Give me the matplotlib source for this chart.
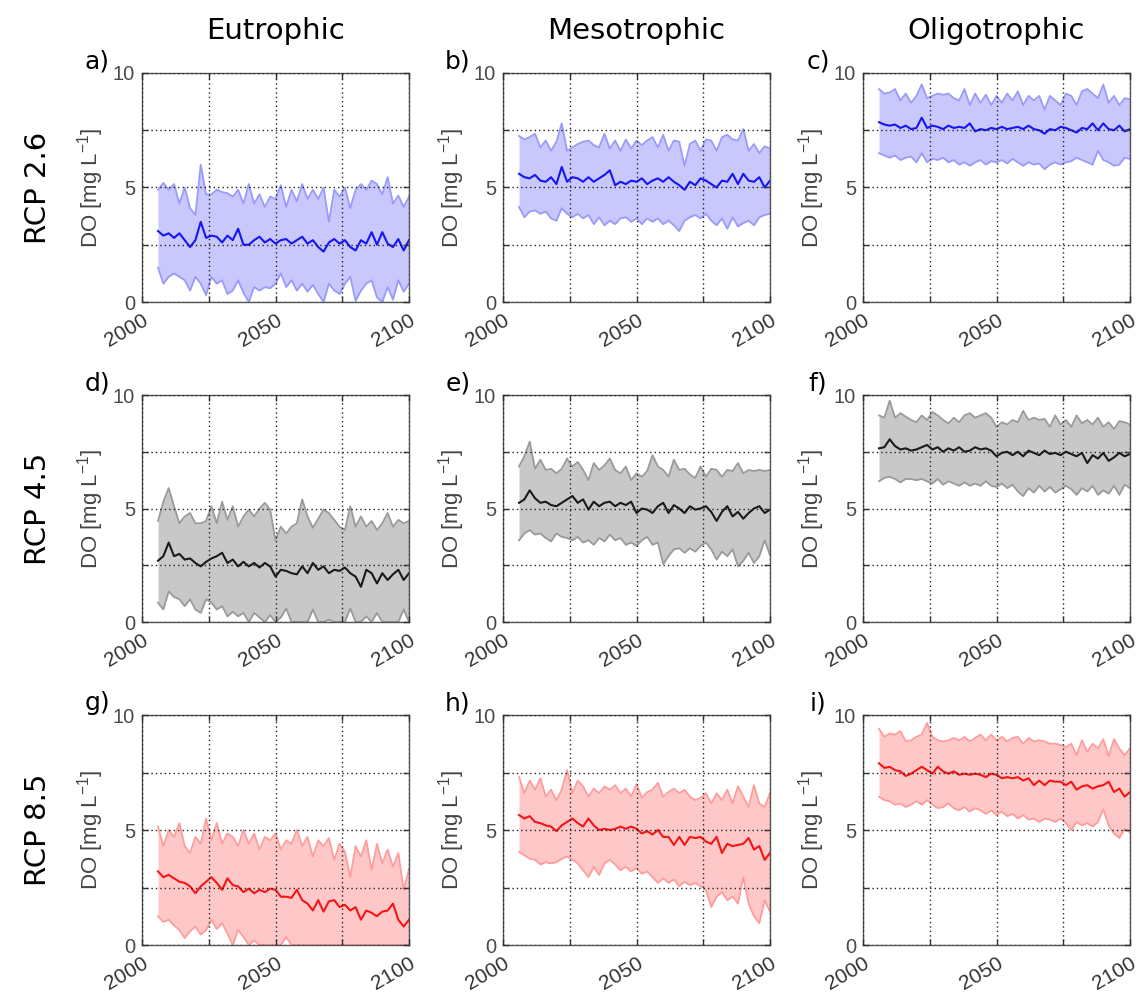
import numpy as np
import matplotlib
matplotlib.use('Agg')
import matplotlib.pyplot as plt

plt.rcParams['mathtext.fontset'] = 'custom'
plt.rcParams['mathtext.rm'] = 'Liberation Sans'
plt.rcParams['font.family'] = ['Liberation Sans', 'DejaVu Sans']

years = np.arange(2006, 2101, 2)

# dissolved oxygen ensembles: low / mean / high envelope, mg/L
# Eutrophic, RCP 2.6
eu26_low = [1.5, 0.8, 1.1, 1.25, 1.1, 0.95, 0.5, 1.1, 0.8, 0.3,
            1.1, 0.8, 0.95, 0.35, 0.5, 0.95, 0.4, 0.0, 0.65, 0.5,
            0.65, 0.6, 0.8, 1.25, 0.65, 0.95, 0.5, 0.8, 0.45, 0.75,
            0.35, 0.0, 0.8, 0.5, 0.35, 0.8, 1.1, 0.05, 0.5, 0.8,
            0.95, 0.2, 0.0, 0.65, 0.1, 0.95, 0.45, 0.8]
eu26_mean = [3.1, 2.9, 3.0, 2.8, 3.0, 2.7, 2.4, 2.7, 3.5, 2.8,
             2.9, 2.85, 2.6, 2.9, 2.7, 3.2, 2.5, 2.5, 2.7, 2.85,
             2.6, 2.75, 2.55, 2.7, 2.75, 2.55, 2.7, 2.85, 2.55, 2.7,
             2.4, 2.2, 2.6, 2.75, 2.55, 2.7, 2.4, 2.25, 2.7, 2.55,
             3.05, 2.5, 3.05, 2.55, 2.4, 2.75, 2.25, 2.7]
eu26_high = [4.9, 5.2, 4.9, 5.15, 4.3, 5.0, 4.1, 3.8, 6.0, 4.7,
             4.7, 4.9, 4.8, 4.75, 4.6, 4.9, 4.3, 5.15, 4.3, 4.7,
             4.15, 4.6, 4.5, 5.1, 4.15, 4.9, 4.4, 5.15, 4.5, 4.9,
             4.5, 5.0, 3.5, 4.9, 4.6, 5.0, 4.1, 4.9, 5.15, 4.9,
             5.3, 5.15, 4.7, 5.45, 4.3, 4.65, 4.15, 4.6]

# Mesotrophic, RCP 2.6
me26_low = [4.15, 3.7, 3.95, 4.0, 3.85, 3.95, 3.65, 3.55, 4.1, 3.85,
            3.7, 3.85, 3.65, 3.8, 3.4, 3.7, 3.35, 3.55, 3.4, 3.65,
            3.7, 3.5, 3.65, 3.4, 3.65, 3.5, 3.65, 3.4, 3.55, 3.35,
            3.1, 3.55, 3.7, 3.8, 3.65, 3.85, 3.55, 3.35, 3.65, 3.2,
            3.7, 3.3, 3.45, 3.55, 3.35, 3.7, 3.8, 3.85]
me26_mean = [5.6, 5.45, 5.4, 5.55, 5.3, 5.25, 5.45, 5.15, 5.9, 5.25,
             5.45, 5.4, 5.25, 5.45, 5.25, 5.4, 5.55, 5.75, 5.1, 5.25,
             5.15, 5.3, 5.25, 5.4, 5.15, 5.3, 5.4, 5.25, 5.45, 5.25,
             5.1, 4.9, 5.25, 5.1, 5.4, 5.3, 5.15, 5.0, 5.3, 5.25,
             5.6, 5.15, 5.6, 5.3, 5.25, 5.45, 5.0, 5.3]
me26_high = [7.25, 7.1, 7.2, 7.35, 6.75, 7.05, 6.6, 7.0, 7.8, 6.6,
             6.75, 6.9, 7.0, 7.05, 6.85, 6.75, 7.35, 6.7, 7.05, 6.6,
             7.1, 6.7, 7.05, 6.85, 7.05, 7.2, 6.75, 7.3, 6.6, 7.05,
             7.0, 5.95, 6.9, 7.05, 6.6, 7.1, 7.05, 6.6, 7.2, 7.3,
             7.1, 7.05, 7.55, 6.6, 6.9, 6.5, 6.8, 6.7]

# Oligotrophic, RCP 2.6
ol26_low = [6.5, 6.4, 6.3, 6.4, 6.2, 6.3, 6.35, 6.1, 6.5, 6.1,
            6.25, 6.2, 6.3, 6.1, 6.2, 6.0, 6.1, 5.95, 6.1, 6.2,
            6.0, 6.15, 6.1, 6.2, 6.05, 6.25, 6.1, 5.95, 6.1, 6.0,
            6.05, 5.8, 6.0, 6.1, 6.0, 6.1, 6.15, 6.3, 6.2, 6.1,
            6.0, 6.6, 6.2, 6.1, 5.95, 6.0, 6.3, 6.25]
ol26_mean = [7.85, 7.75, 7.7, 7.75, 7.6, 7.7, 7.55, 7.6, 8.05, 7.6,
             7.7, 7.65, 7.55, 7.7, 7.6, 7.65, 7.6, 7.8, 7.45, 7.55,
             7.5, 7.6, 7.55, 7.65, 7.55, 7.6, 7.65, 7.55, 7.7, 7.55,
             7.5, 7.35, 7.55, 7.5, 7.65, 7.6, 7.5, 7.4, 7.6, 7.55,
             7.8, 7.5, 7.8, 7.55, 7.5, 7.7, 7.45, 7.55]
ol26_high = [9.3, 9.1, 9.15, 9.3, 8.8, 9.1, 8.7, 9.0, 9.5, 8.9,
             9.0, 9.1, 9.05, 9.1, 8.9, 8.8, 9.3, 8.6, 9.1, 8.7,
             9.05, 8.6, 9.0, 8.7, 9.1, 8.8, 9.2, 8.6, 9.0, 8.8,
             9.0, 8.4, 9.0, 8.8, 8.6, 9.1, 9.0, 8.6, 9.2, 9.3,
             9.1, 8.9, 9.5, 8.7, 9.0, 8.6, 8.9, 8.85]

# Eutrophic, RCP 4.5
eu45_low = [0.85, 0.55, 1.35, 1.1, 1.0, 0.7, 1.0, 0.55, 0.4, 1.0,
            0.85, 0.55, 0.7, 0.25, 0.45, 0.25, 0.4, 0.0, 0.4, 0.2,
            0.0, 0.3, 0.0, 0.2, 0.6, 0.0, 0.0, 0.0, 0.0, 0.55,
            0.0, 0.0, 0.1, 0.0, 0.0, 0.0, 0.6, 0.0, 0.0, 0.25,
            0.0, 0.4, 0.0, 0.0, 0.0, 0.0, 0.55, 0.0]
eu45_mean = [2.7, 2.9, 3.5, 2.9, 3.0, 2.75, 2.8, 2.6, 2.45, 2.65,
             2.8, 2.9, 3.05, 2.6, 2.75, 2.45, 2.65, 2.45, 2.6, 2.4,
             2.6, 2.45, 2.0, 2.3, 2.25, 2.15, 2.1, 2.45, 2.15, 2.6,
             2.3, 2.45, 2.15, 2.3, 2.25, 2.4, 2.15, 2.0, 1.55, 2.3,
             2.15, 1.7, 2.15, 1.85, 2.1, 2.3, 1.85, 2.15]
eu45_high = [4.45, 5.3, 5.9, 5.1, 4.35, 4.65, 4.8, 4.35, 4.35, 4.45,
             5.1, 4.35, 5.3, 4.5, 5.1, 4.2, 4.65, 4.95, 4.65, 5.0,
             5.25, 4.95, 3.6, 4.2, 3.9, 4.2, 4.35, 5.4, 4.65, 4.15,
             4.55, 4.95, 4.8, 4.5, 4.2, 4.05, 5.1, 4.2, 4.65, 4.2,
             4.45, 4.05, 4.35, 4.8, 4.2, 4.5, 4.35, 4.45]

# Mesotrophic, RCP 4.5
me45_low = [3.6, 3.9, 4.05, 3.85, 3.9, 3.7, 3.55, 3.9, 3.75, 3.7,
            3.6, 3.75, 3.5, 3.6, 3.4, 3.7, 3.55, 3.85, 3.6, 3.7,
            3.4, 3.5, 3.35, 3.6, 3.75, 3.4, 3.5, 2.55, 2.9, 3.2,
            3.25, 3.05, 3.25, 3.1, 3.35, 3.5, 3.2, 2.75, 3.1, 2.9,
            3.2, 2.45, 2.7, 3.05, 2.6, 2.9, 3.6, 2.95]
me45_mean = [5.25, 5.4, 5.8, 5.45, 5.25, 5.3, 5.15, 5.1, 5.25, 5.4,
             5.55, 5.25, 5.4, 4.95, 5.3, 5.1, 5.25, 5.3, 5.1, 5.25,
             5.15, 5.3, 4.8, 5.0, 4.95, 4.8, 5.1, 5.25, 4.8, 5.15,
             5.0, 4.8, 5.1, 4.95, 5.0, 5.1, 4.85, 4.45, 4.85, 5.1,
             4.65, 4.85, 4.55, 4.8, 5.0, 5.1, 4.8, 4.95]
me45_high = [6.85, 7.3, 7.95, 6.75, 7.15, 6.7, 6.75, 6.55, 6.75, 7.2,
             6.85, 7.05, 6.7, 6.25, 7.0, 6.7, 6.9, 7.2, 6.7, 6.55,
             6.85, 6.25, 6.55, 6.4, 6.65, 7.35, 6.85, 6.7, 6.4, 7.15,
             6.7, 6.75, 6.5, 6.35, 6.85, 6.4, 6.75, 6.7, 6.4, 6.7,
             6.65, 7.0, 6.55, 6.7, 6.65, 6.7, 6.65, 6.7]

# Oligotrophic, RCP 4.5
ol45_low = [6.2, 6.35, 6.4, 6.3, 6.15, 6.3, 6.3, 6.25, 6.3, 6.2,
            6.1, 6.3, 6.05, 6.2, 6.1, 6.0, 6.15, 6.0, 6.1, 6.0,
            6.2, 6.0, 5.95, 6.1, 5.9, 6.05, 5.75, 5.55, 5.9, 5.7,
            6.0, 5.75, 5.95, 5.7, 5.85, 6.0, 5.85, 5.6, 5.9, 5.75,
            6.0, 5.6, 5.8, 5.65, 6.0, 5.6, 6.05, 5.9]
ol45_mean = [7.65, 7.7, 8.05, 7.75, 7.6, 7.65, 7.55, 7.6, 7.7, 7.8,
             7.6, 7.7, 7.5, 7.65, 7.55, 7.7, 7.5, 7.55, 7.7, 7.6,
             7.65, 7.55, 7.3, 7.45, 7.5, 7.35, 7.5, 7.3, 7.55, 7.45,
             7.35, 7.55, 7.4, 7.45, 7.35, 7.5, 7.4, 7.3, 7.45, 7.0,
             7.35, 7.2, 7.45, 7.1, 7.25, 7.45, 7.3, 7.4]
ol45_high = [9.1, 9.0, 9.75, 9.0, 9.2, 9.05, 8.9, 8.8, 9.1, 8.9,
             9.25, 9.1, 8.9, 8.75, 9.0, 8.8, 9.1, 9.2, 9.0, 9.1,
             9.2, 9.0, 8.6, 8.8, 8.7, 8.9, 8.8, 9.3, 8.9, 9.0,
             8.9, 8.95, 8.6, 9.1, 8.7, 8.9, 8.6, 9.1, 8.75, 8.9,
             8.7, 9.0, 8.6, 8.8, 8.5, 8.85, 8.8, 8.7]

# Eutrophic, RCP 8.5
eu85_low = [1.25, 1.0, 1.1, 0.85, 0.65, 0.3, 0.6, 0.8, 0.45, 0.65,
            1.1, 0.7, 0.95, 0.5, 0.0, 0.65, 0.35, 0.0, 0.2, 0.0,
            0.0, 0.0, 0.0, 0.0, 0.35, 0.0, 0.0, 0.0, 0.0, 0.0,
            0.0, 0.0, 0.0, 0.0, 0.0, 0.0, 0.0, 0.0, 0.0, 0.0,
            0.0, 0.0, 0.0, 0.0, 0.0, 0.0, 0.0, 0.0]
eu85_mean = [3.2, 2.95, 3.05, 2.9, 2.75, 2.7, 2.55, 2.25, 2.55, 2.75,
             2.95, 2.7, 2.4, 2.9, 2.6, 2.55, 2.3, 2.45, 2.25, 2.4,
             2.3, 2.45, 2.4, 2.1, 2.1, 2.05, 2.4, 1.95, 1.8, 1.5,
             1.95, 1.45, 1.9, 1.95, 1.65, 1.75, 1.5, 1.65, 1.1, 1.5,
             1.4, 1.25, 1.45, 1.5, 1.8, 1.1, 0.8, 1.1]
eu85_high = [5.15, 4.3, 5.0, 4.7, 5.3, 4.3, 4.0, 4.7, 4.4, 5.5,
             4.55, 5.3, 4.4, 4.85, 4.7, 4.3, 5.0, 4.4, 4.85, 4.15,
             4.7, 4.55, 4.85, 4.15, 4.55, 4.4, 5.0, 4.3, 4.7, 3.85,
             4.55, 4.3, 4.65, 3.7, 4.4, 4.05, 2.95, 4.3, 3.85, 4.55,
             3.25, 4.4, 3.55, 4.15, 3.4, 4.0, 2.4, 3.3]

# Mesotrophic, RCP 8.5
me85_low = [4.05, 3.9, 3.75, 3.7, 3.5, 3.6, 3.55, 3.6, 3.75, 3.85,
            3.7, 3.55, 3.25, 2.95, 3.4, 3.05, 3.55, 3.7, 3.5, 3.25,
            3.4, 3.2, 3.35, 3.1, 3.2, 2.95, 2.7, 2.9, 2.7, 2.85,
            2.55, 2.75, 2.6, 2.7, 2.55, 2.4, 1.65, 2.1, 2.3, 1.95,
            2.1, 1.8, 2.95, 1.8, 1.25, 0.95, 1.95, 1.45]
me85_mean = [5.65, 5.5, 5.6, 5.35, 5.3, 5.2, 5.15, 4.95, 5.2, 5.35,
             5.5, 5.3, 5.15, 5.5, 5.2, 5.0, 5.05, 5.0, 5.05, 5.15,
             5.05, 5.15, 5.05, 4.85, 4.95, 4.8, 5.0, 4.7, 4.7, 4.35,
             4.7, 4.35, 4.7, 4.65, 4.7, 4.5, 4.4, 4.7, 4.0, 4.4,
             4.3, 4.35, 4.4, 4.65, 4.15, 4.3, 3.7, 4.0]
me85_high = [7.3, 6.6, 7.15, 6.75, 7.25, 6.45, 6.75, 6.3, 6.75, 7.6,
             6.6, 7.15, 6.9, 6.45, 6.8, 6.6, 6.9, 6.75, 6.95, 6.6,
             6.8, 6.45, 7.0, 6.4, 6.65, 6.75, 7.05, 6.45, 6.65, 6.8,
             6.6, 6.75, 6.45, 6.3, 6.4, 6.6, 6.15, 6.6, 6.3, 6.75,
             6.15, 6.9, 6.45, 6.0, 6.95, 6.15, 6.0, 6.6]

# Oligotrophic, RCP 8.5
ol85_low = [6.45, 6.3, 6.25, 6.1, 6.15, 6.0, 6.1, 6.25, 6.1, 6.3,
            6.1, 5.95, 6.0, 6.15, 5.95, 5.85, 6.0, 5.8, 5.95, 5.85,
            5.7, 5.85, 5.65, 5.8, 5.6, 5.7, 5.5, 5.65, 5.45, 5.5,
            5.35, 5.5, 5.45, 5.35, 5.5, 5.3, 5.0, 5.35, 5.2, 5.3,
            5.15, 5.35, 5.9, 5.2, 4.85, 4.65, 5.05, 4.9]
ol85_mean = [7.9, 7.7, 7.75, 7.6, 7.55, 7.35, 7.45, 7.6, 7.75, 7.6,
             7.45, 7.75, 7.55, 7.45, 7.55, 7.4, 7.45, 7.4, 7.45, 7.4,
             7.3, 7.45, 7.4, 7.25, 7.3, 7.25, 7.3, 7.15, 7.25, 6.95,
             7.15, 6.95, 7.15, 7.1, 7.1, 6.95, 7.1, 6.75, 6.9, 6.95,
             6.8, 6.9, 6.95, 7.1, 6.65, 6.8, 6.45, 6.65]
ol85_high = [9.4, 9.05, 9.2, 9.15, 9.3, 8.85, 8.9, 9.05, 9.15, 9.65,
             9.05, 8.9, 8.85, 8.9, 9.0, 8.9, 9.05, 8.85, 9.0, 9.15,
             8.9, 9.15, 8.9, 9.05, 8.85, 9.0, 9.05, 8.75, 9.0, 8.85,
             8.9, 8.85, 8.75, 8.75, 8.7, 8.6, 8.75, 8.25, 8.9, 8.4,
             8.75, 8.55, 8.95, 8.2, 8.95, 8.55, 8.25, 8.55]

trophic = ['Eutrophic', 'Mesotrophic', 'Oligotrophic']
scenarios = ['RCP 2.6', 'RCP 4.5', 'RCP 8.5']
letters = 'abcdefghi'

panels = [
    [(eu26_low, eu26_mean, eu26_high), (me26_low, me26_mean, me26_high), (ol26_low, ol26_mean, ol26_high)],
    [(eu45_low, eu45_mean, eu45_high), (me45_low, me45_mean, me45_high), (ol45_low, ol45_mean, ol45_high)],
    [(eu85_low, eu85_mean, eu85_high), (me85_low, me85_mean, me85_high), (ol85_low, ol85_mean, ol85_high)],
]

# fill, envelope edge, mean line for each scenario
colors = [
    ('#c8c8fd', '#9a9afb', '#1515f5'),
    ('#c8c8c8', '#9a9a9a', '#1a1a1a'),
    ('#ffc8c8', '#ff9c9c', '#f51515'),
]

W, H = 1142, 996
fig = plt.figure(figsize=(W / 100, H / 100), dpi=100)

col_px = [142, 503, 863]
row_px = [(73, 302), (395, 622), (715, 945)]
ax_w = 267

for r in range(3):
    top, bot = row_px[r]
    fill, edge, line = colors[r]
    for c in range(3):
        left = col_px[c]
        ax = fig.add_axes([left / W, 1 - bot / H, ax_w / W, (bot - top) / H])
        lo, mid, hi = panels[r][c]
        ax.fill_between(years, lo, hi, color=fill, lw=0)
        ax.plot(years, lo, color=edge, lw=1.3)
        ax.plot(years, hi, color=edge, lw=1.3)
        ax.plot(years, mid, color=line, lw=1.5)

        ax.set_xlim(2000, 2100)
        ax.set_ylim(0, 10)
        # labelled majors, unlabelled minors carry the intermediate grid lines
        ax.set_xticks([2000, 2050, 2100])
        ax.set_xticks([2025, 2075], minor=True)
        ax.set_xticklabels(['2000', '2050', '2100'], rotation=30,
                           ha='right', rotation_mode='anchor',
                           fontsize=15, color='#333333')
        ax.set_yticks([0, 5, 10])
        ax.set_yticks([2.5, 7.5], minor=True)
        ax.set_yticklabels(['0', '5', '10'], fontsize=14.5, color='#4a4a4a')
        ax.tick_params(which='both', direction='in', length=4, width=1,
                       top=True, right=True, color='#333333')
        ax.tick_params(axis='x', pad=6)
        ax.tick_params(axis='y', pad=5)
        ax.grid(True, which='both', color='#222222', lw=1,
                linestyle=(0, (1, 2.2)))
        ax.set_axisbelow(False)
        for s in ax.spines.values():
            s.set_color('#555555')
            s.set_linewidth(1)
        ax.set_ylabel('DO [mg L$^{-1}$]', fontsize=16, color='#444444', labelpad=5)

        fig.text((left - 45) / W, 1 - (top - 12) / H, letters[3 * r + c] + ')',
                 fontsize=18, ha='center', va='center', family='DejaVu Sans')

        if r == 0:
            fig.text((left + ax_w / 2) / W, 1 - 31 / H, trophic[c],
                     fontsize=21, ha='center', va='center', family='DejaVu Sans')
    fig.text(38 / W, 1 - (top + bot) / 2 / H, scenarios[r], fontsize=21,
             rotation=90, ha='center', va='center', family='DejaVu Sans')

fig.savefig('out.png', dpi=100)
